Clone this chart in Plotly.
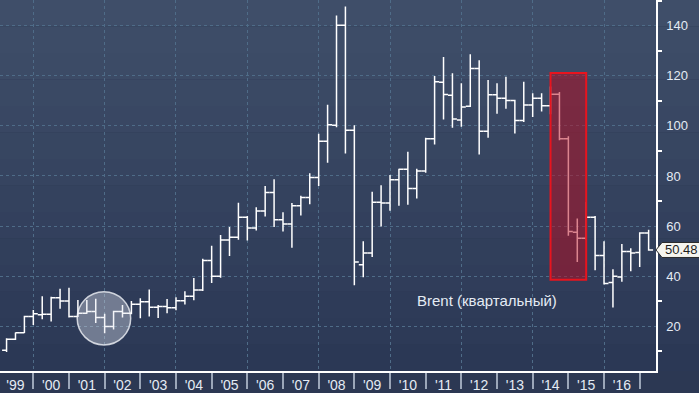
import plotly.graph_objects as go

# ---------------- data ----------------
quarters = [
    "1999Q1", "1999Q2", "1999Q3", "1999Q4", "2000Q1", "2000Q2", "2000Q3", "2000Q4",
    "2001Q1", "2001Q2", "2001Q3", "2001Q4", "2002Q1", "2002Q2", "2002Q3", "2002Q4",
    "2003Q1", "2003Q2", "2003Q3", "2003Q4", "2004Q1", "2004Q2", "2004Q3", "2004Q4",
    "2005Q1", "2005Q2", "2005Q3", "2005Q4", "2006Q1", "2006Q2", "2006Q3", "2006Q4",
    "2007Q1", "2007Q2", "2007Q3", "2007Q4", "2008Q1", "2008Q2", "2008Q3", "2008Q4",
    "2009Q1", "2009Q2", "2009Q3", "2009Q4", "2010Q1", "2010Q2", "2010Q3", "2010Q4",
    "2011Q1", "2011Q2", "2011Q3", "2011Q4", "2012Q1", "2012Q2", "2012Q3", "2012Q4",
    "2013Q1", "2013Q2", "2013Q3", "2013Q4", "2014Q1", "2014Q2", "2014Q3", "2014Q4",
    "2015Q1", "2015Q2", "2015Q3", "2015Q4", "2016Q1", "2016Q2", "2016Q3", "2016Q4",
    "2017Q1",
]
open_ = [
    10.5, 14.9, 17.5, 23.9, 24.6, 24.8, 31.4, 30.1,
    23.9, 25.2, 25.9, 23.5, 20.0, 25.9, 25.2, 28.8,
    29.8, 27.6, 27.9, 27.4, 30.2, 32.0, 34.5, 46.3,
    40.0, 54.5, 55.6, 63.5, 59.2, 66.0, 73.4, 62.5,
    60.8, 68.1, 71.4, 79.4, 93.9, 100.2, 140.1, 98.2,
    44.6, 49.3, 69.5, 69.2, 78.5, 82.7, 75.0, 82.0,
    94.8, 117.4, 112.2, 102.3, 107.8, 122.9, 97.8, 112.4,
    111.0, 110.1, 102.1, 108.3, 111.0, 108.0, 112.6, 94.8,
    57.6, 55.2, 63.5, 48.3, 37.5, 39.7, 49.9, 49.5,
    57.3,
]
high = [
    15.3, 17.6, 24.2, 26.5, 32.0, 31.8, 35.0, 35.4,
    30.5, 30.5, 31.0, 25.0, 26.2, 28.5, 30.1, 31.2,
    34.7, 28.5, 30.9, 31.6, 34.0, 39.3, 47.0, 52.2,
    56.5, 59.6, 69.3, 64.0, 67.5, 76.0, 78.7, 65.5,
    69.2, 72.1, 81.1, 96.8, 108.4, 144.0, 147.6, 100.2,
    54.0, 73.7, 76.3, 80.4, 82.9, 89.7, 82.9, 95.2,
    119.9, 127.5, 121.0, 117.0, 128.6, 126.2, 118.3, 117.0,
    119.6, 110.4, 117.6, 113.0, 113.0, 115.7, 113.5, 95.8,
    63.0, 69.6, 64.0, 54.0, 42.8, 52.9, 51.2, 57.6,
    58.5,
]
low = [
    9.8, 14.6, 17.4, 20.6, 22.8, 21.9, 27.0, 23.5,
    23.7, 25.0, 21.3, 17.3, 18.8, 23.5, 24.8, 23.2,
    23.9, 23.3, 25.2, 26.4, 28.7, 30.4, 34.1, 37.3,
    39.4, 48.1, 54.6, 54.3, 58.2, 63.8, 59.6, 57.8,
    51.4, 64.2, 68.7, 76.0, 85.3, 99.4, 89.0, 36.4,
    39.6, 47.7, 59.8, 66.1, 68.1, 68.5, 71.0, 81.3,
    92.6, 102.5, 99.2, 99.6, 107.5, 88.6, 95.2, 104.8,
    106.8, 96.9, 101.5, 103.5, 105.7, 104.6, 94.3, 56.2,
    45.7, 54.5, 42.4, 36.7, 27.5, 37.8, 42.0, 43.7,
    50.2,
]
close = [
    14.9, 17.5, 23.9, 25.0, 24.8, 31.4, 30.1, 23.9,
    25.2, 25.9, 23.5, 20.0, 25.9, 25.2, 28.8, 29.8,
    27.6, 27.9, 27.4, 30.2, 32.0, 34.5, 46.3, 40.0,
    54.5, 55.6, 63.5, 59.2, 66.0, 73.4, 62.5, 60.8,
    68.1, 71.4, 79.4, 93.9, 100.4, 140.1, 98.2, 45.7,
    49.3, 69.5, 69.2, 78.5, 82.7, 75.0, 82.0, 94.8,
    117.6, 112.5, 102.7, 107.5, 122.9, 97.8, 112.4, 111.0,
    110.1, 102.1, 108.3, 111.0, 108.0, 112.6, 94.8, 57.8,
    55.2, 63.5, 48.3, 37.1, 40.0, 49.9, 49.3, 57.3,
    50.48,
]
year_labels = ["'99", "'00", "'01", "'02", "'03", "'04", "'05", "'06", "'07",
               "'08", "'09", "'10", "'11", "'12", "'13", "'14", "'15", "'16"]
label_years = list(range(1999, 2017))
y_ticks = [20, 40, 60, 80, 100, 120, 140]
y_minor_ticks = [10, 30, 50, 70, 90, 110, 130, 150]
series_label = "Brent (квартальный)"
last_price = close[-1]

# highlight regions (data coordinates)
highlight_rect = dict(x0=2014.5, x1=2015.5, y0=38.6, y1=121.1)
highlight_circle = dict(x0=2001.23, x1=2002.73, y0=12.6, y1=33.8)

# ---------------- derived ----------------
x = [int(q[:4]) + int(q[-1]) * 0.25 for q in quarters]

X_MIN, X_MAX = 1999.066, 2017.457
Y_MIN, Y_MAX = 2.2, 150.2

FONT = "Liberation Sans, Arial, sans-serif"
GRID = "#4f6c88"
TXT = "#e4ebf4"

fig = go.Figure()

fig.add_trace(go.Ohlc(
    x=x, open=open_, high=high, low=low, close=close,
    increasing=dict(line=dict(color="white", width=1.5)),
    decreasing=dict(line=dict(color="white", width=1.5)),
    tickwidth=0.5, hoverinfo="skip", showlegend=False,
))

# triangle markers on right axis at major ticks
fig.add_trace(go.Scatter(
    x=[X_MAX + 0.1] * len(y_ticks), y=y_ticks, mode="markers",
    marker=dict(symbol="triangle-right", size=7, color="white"),
    cliponaxis=False, hoverinfo="skip", showlegend=False,
))

# dummy trace for the label axis
fig.add_trace(go.Scatter(x=[X_MIN], y=[None], xaxis="x2", mode="markers",
                         hoverinfo="skip", showlegend=False))

# background gradient bands
top = (63, 78, 105)
bot = (43, 56, 85)
n_bands = 14
shapes = []
for i in range(n_bands):
    t = i / (n_bands - 1)
    c = tuple(round(top[k] + (bot[k] - top[k]) * t) for k in range(3))
    shapes.append(dict(
        type="rect", xref="paper", yref="paper",
        x0=0, x1=1.1, y0=1 - (i + 1) / n_bands, y1=1 - i / n_bands,
        fillcolor="rgb(%d,%d,%d)" % c, line=dict(width=0), layer="below",
    ))

shapes.append(dict(
    type="rect", xref="x", yref="y", layer="above",
    fillcolor="rgba(185,12,32,0.5)", line=dict(color="#e8141e", width=2),
    **highlight_rect,
))
shapes.append(dict(
    type="circle", xref="x", yref="y", layer="above",
    fillcolor="rgba(225,230,240,0.38)", line=dict(color="rgba(240,242,248,0.8)", width=1.5),
    **highlight_circle,
))
# last price tag
shapes.append(dict(
    type="path", xref="paper", yref="y", xsizemode="pixel", ysizemode="pixel",
    xanchor=1.0, yanchor=last_price,
    path="M 0 0 L 6 7.5 L 60 7.5 L 60 -7.5 L 6 -7.5 Z",
    fillcolor="#f5f4ee", line=dict(color="#2a2a2a", width=1), layer="above",
))

annotations = [
    dict(x=2012.72, y=30.5, xref="x", yref="y", text=series_label, showarrow=False,
         font=dict(family=FONT, size=15, color=TXT)),
    dict(x=1.0, y=last_price, xref="paper", yref="y", text=f"{last_price:.2f}",
         showarrow=False, xanchor="left", xshift=7,
         font=dict(family=FONT, size=13, color="#1e1e1e")),
]

fig.update_layout(
    width=699, height=393,
    margin=dict(l=0, r=43, t=0, b=20),
    paper_bgcolor="#2c3853", plot_bgcolor="rgba(0,0,0,0)",
    showlegend=False,
    shapes=shapes, annotations=annotations,
    xaxis=dict(
        range=[X_MIN, X_MAX], showgrid=True, tick0=2000, dtick=2,
        gridcolor=GRID, griddash="3px,3px", gridwidth=1,
        showticklabels=False, ticks="", zeroline=False, showline=False,
        rangeslider=dict(visible=False), fixedrange=True,
    ),
    xaxis2=dict(
        overlaying="x", anchor="y", side="bottom", range=[X_MIN, X_MAX],
        tickmode="array", tickvals=[yr + 0.5 for yr in label_years], ticktext=year_labels,
        ticks="", showgrid=False, zeroline=False,
        showline=True, linecolor="white", linewidth=2,
        tickfont=dict(family=FONT, size=14, color=TXT),
        minor=dict(tickmode="array", tickvals=list(range(2000, 2018)),
                   ticks="outside", ticklen=16, tickcolor="#9ba6b8", tickwidth=1.5,
                   showgrid=False),
        fixedrange=True,
    ),
    yaxis=dict(
        side="right", range=[Y_MIN, Y_MAX],
        tickmode="array", tickvals=y_ticks,
        ticks="outside", ticklen=6, tickcolor="rgba(0,0,0,0)",
        showgrid=True, gridcolor=GRID, griddash="3px,3px", gridwidth=1,
        zeroline=False, showline=True, linecolor="white", linewidth=1.5,
        tickfont=dict(family=FONT, size=13, color=TXT),
        minor=dict(tickmode="array", tickvals=y_minor_ticks, ticks="outside",
                   ticklen=4, tickcolor="white", tickwidth=1.5, showgrid=False),
        fixedrange=True,
    ),
)

fig.write_html(
    "out.html",
    config={"displayModeBar": False},
    post_script="document.body.style.margin='0';document.body.style.overflow='hidden';",
)
